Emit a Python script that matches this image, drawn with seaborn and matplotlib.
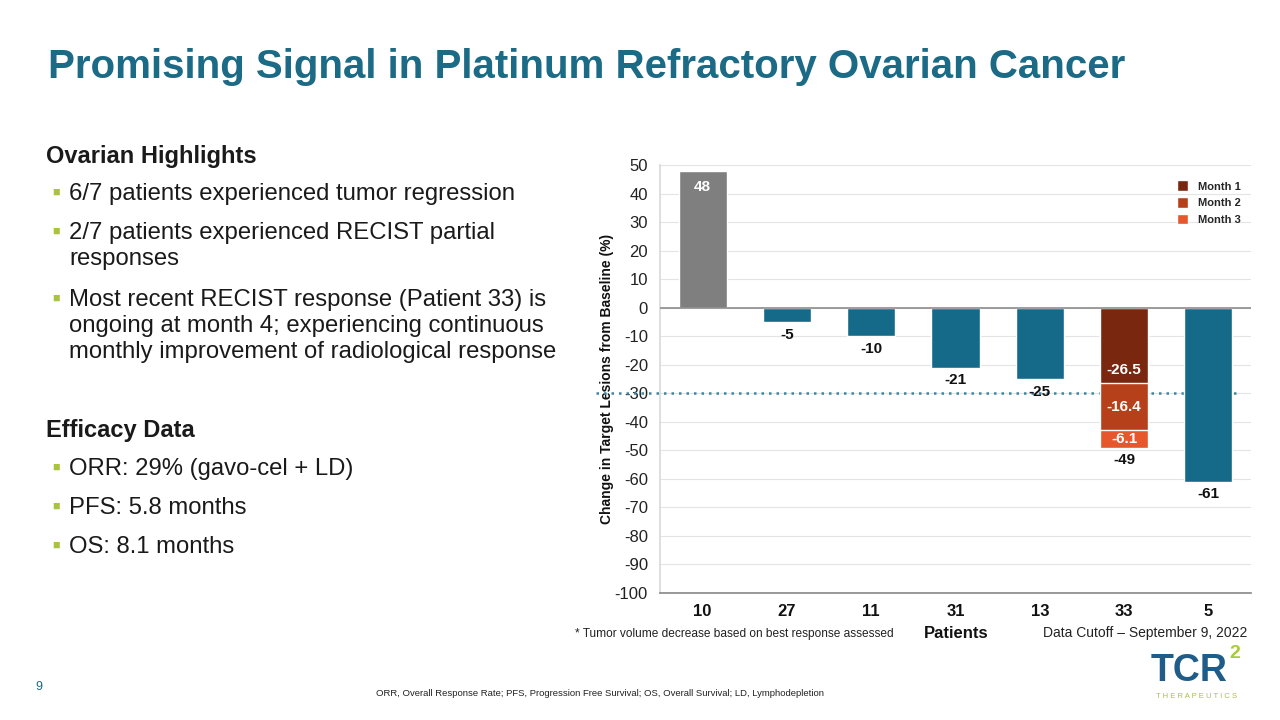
import pandas as pd
import seaborn as sns
import matplotlib.pyplot as plt
from matplotlib.patches import Patch

patients = ['10', '27', '11', '31', '13', '33', '5']
change = [48, -5, -10, -21, -25, -49, -61]
month1 = -26.5
month2 = -16.4
month3 = -6.1
yticks = list(range(-100, 51, 10))

teal = '#156A89'
gray_bar = '#7F7F7F'
m1_col = '#7A2710'
m2_col = '#B5401A'
m3_col = '#E6572B'
title_col = '#1B6A86'
green = '#A9C23F'

sns.set_theme(style='white')
plt.rcParams['font.family'] = ['Liberation Sans', 'DejaVu Sans']

fig = plt.figure(figsize=(12.8, 7.2), dpi=100)
ax = fig.add_axes([0.516, 0.1764, 0.461, 0.594])

df = pd.DataFrame({'patient': patients, 'change': change})
df['group'] = ['pos'] + ['neg'] * 6
df.loc[df['patient'] == '33', 'group'] = 'm3'

sns.barplot(data=df, x='patient', y='change', hue='group', order=patients,
            palette={'pos': gray_bar, 'neg': teal, 'm3': m3_col},
            dodge=False, legend=False, width=0.57, saturation=1, ax=ax, zorder=3)
# stacked months for patient 33, drawn over the total bar
sns.barplot(x=['33'], y=[month1 + month2], order=patients, color=m2_col,
            width=0.57, saturation=1, ax=ax, zorder=4)
sns.barplot(x=['33'], y=[month1], order=patients, color=m1_col,
            width=0.57, saturation=1, ax=ax, zorder=5)

ax.set_ylim(-100, 50)
ax.set_xlim(-0.5, len(patients) - 0.5)
ax.set_yticks(yticks)
ax.set_yticklabels([str(t) for t in yticks], fontsize=12, color='#222222')
ax.set_xticks(range(len(patients)))
ax.set_xticklabels(patients, fontsize=12, fontweight='bold', color='#111111')
ax.tick_params(axis='x', pad=8, length=0)
ax.tick_params(axis='y', pad=9, length=0)
ax.set_xlabel('')
ax.set_ylabel('Change in Target Lesions from Baseline (%)', fontsize=10,
              fontweight='bold', color='#111111', labelpad=0.5)
ax.grid(axis='y', color='#E4E4E4', lw=0.8, zorder=0)
for s in ['top', 'right']:
    ax.spines[s].set_visible(False)
ax.spines['left'].set_color('#D9D9D9')
ax.spines['bottom'].set_color('#8C8C8C')
ax.axhline(0, color='#8C8C8C', lw=1.2, zorder=6)

# -30% response threshold
ax.axhline(-30, xmin=-0.109, xmax=0.983, color='#3F85A0', lw=1.8,
           ls=(0, (1, 2.0)), clip_on=False, zorder=2)

# value labels
for i, v in enumerate(change):
    if v > 0:
        ax.text(i, v - 5.5, str(v), ha='center', va='center', color='white',
                fontsize=11, fontweight='bold', zorder=7)
    else:
        ax.annotate(str(v), (i, v), xytext=(0, -4), textcoords='offset points',
                    ha='center', va='top', fontsize=11, fontweight='bold',
                    color='#111111', zorder=7)
i33 = patients.index('33')
ax.text(i33, month1 + 4.7, str(month1), ha='center', va='center', color='white',
        fontsize=11, fontweight='bold', zorder=7)
ax.text(i33, month1 + month2 / 2, str(month2), ha='center', va='center',
        color='white', fontsize=11, fontweight='bold', zorder=7)
ax.text(i33, month1 + month2 + month3 / 2, str(month3), ha='center', va='center',
        color='white', fontsize=11, fontweight='bold', zorder=7)

# legend
handles = [Patch(facecolor=m1_col, label='Month 1'),
           Patch(facecolor=m2_col, label='Month 2'),
           Patch(facecolor=m3_col, label='Month 3')]
leg = ax.legend(handles=handles, loc='upper right', bbox_to_anchor=(1.0, 0.988),
                frameon=False, fontsize=8, handlelength=1.0, handleheight=1.1,
                handletextpad=0.9, labelspacing=0.5)
for t in leg.get_texts():
    t.set_fontweight('bold')


def fy(y):
    return 1 - y / 720


# title
fig.text(48 / 1280, fy(67), 'Promising Signal in Platinum Refractory Ovarian Cancer',
         fontsize=29, fontweight='bold', color=title_col, va='center', ha='left')

# left text block
fig.text(46 / 1280, fy(157), 'Ovarian Highlights', fontsize=17, fontweight='bold',
         color='#1A1A1A', va='center')
fig.text(46 / 1280, fy(430), 'Efficacy Data', fontsize=17, fontweight='bold',
         color='#1A1A1A', va='center')
bullets = [
    (194, ['6/7 patients experienced tumor regression']),
    (233, ['2/7 patients experienced RECIST partial', 'responses']),
    (300, ['Most recent RECIST response (Patient 33) is',
           'ongoing at month 4; experiencing continuous',
           'monthly improvement of radiological response']),
    (469, ['ORR: 29% (gavo-cel + LD)']),
    (508, ['PFS: 5.8 months']),
    (547, ['OS: 8.1 months']),
]
for y, lines in bullets:
    fig.text(52 / 1280, fy(y - 1), '\u25A0', fontsize=9, color=green, va='center', ha='left')
    for k, line in enumerate(lines):
        fig.text(69 / 1280, fy(y + k * 26), line, fontsize=17.2, color='#1A1A1A', va='center')

# notes
fig.text(575 / 1280, fy(634), '* Tumor volume decrease based on best response assessed',
         fontsize=8.6, color='#222222', va='center')
fig.text(956 / 1280, fy(633), 'Patients', fontsize=12, fontweight='bold',
         color='#111111', va='center', ha='center')
fig.text(1247 / 1280, fy(633), 'Data Cutoff \u2013 September 9, 2022', fontsize=10,
         color='#222222', va='center', ha='right')
fig.text(35 / 1280, fy(687), '9', fontsize=9, color=title_col, va='center')
fig.text(600 / 1280, fy(694),
         'ORR, Overall Response Rate; PFS, Progression Free Survival; OS, Overall Survival; LD, Lymphodepletion',
         fontsize=6.8, color='#222222', va='center', ha='center')

# logo
fig.text(1151 / 1280, fy(671), 'TCR', fontsize=27, fontweight='bold', color='#1F5C88',
         va='center', ha='left')
fig.text(1229 / 1280, fy(653), '2', fontsize=14, fontweight='bold', color='#A6CC38',
         va='center', ha='left')
fig.text(1196 / 1280, fy(697), 'T H E R A P E U T I C S', fontsize=5.5, color='#A6C43A',
         va='center', ha='center')

fig.savefig('out.png', dpi=100)
